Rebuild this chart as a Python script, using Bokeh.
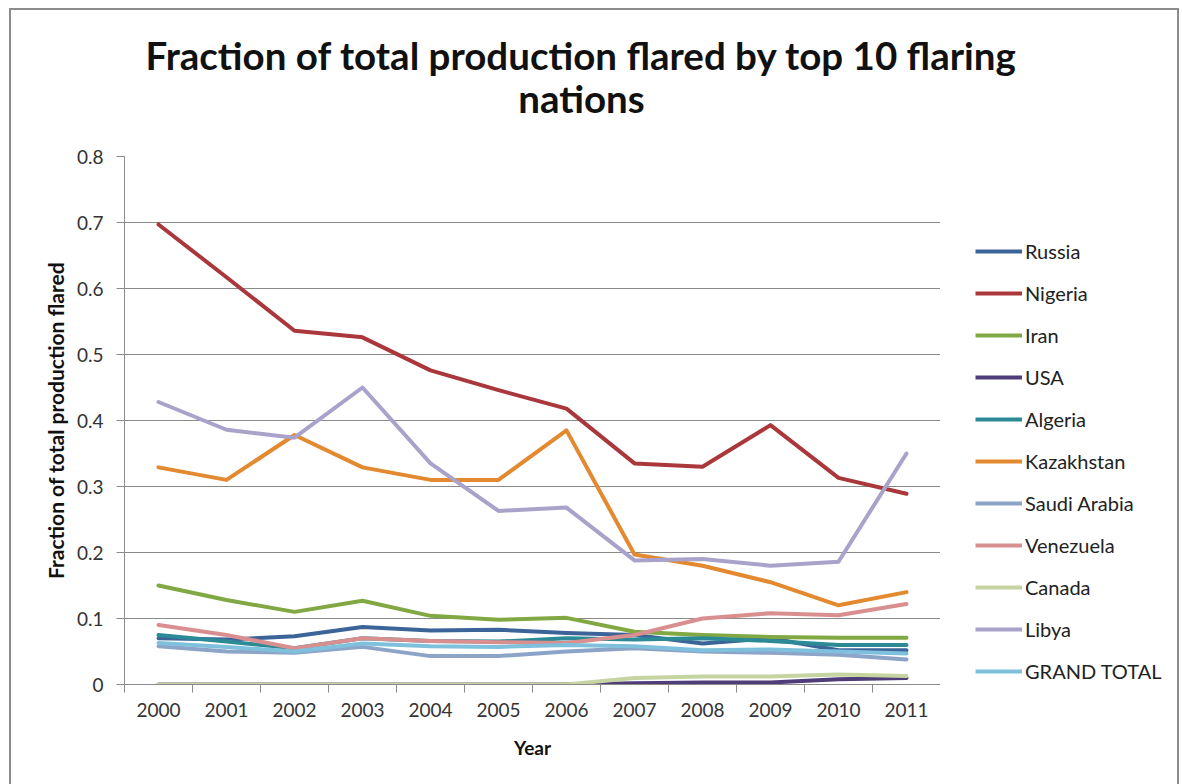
from bokeh.plotting import figure
from bokeh.layouts import column, row
from bokeh.models import (Range1d, FixedTicker, CustomJSTickFormatter, Legend, LegendItem,
                          Label, InlineStyleSheet)
from bokeh.embed import file_html
from bokeh.resources import INLINE

years = [2000, 2001, 2002, 2003, 2004, 2005, 2006, 2007, 2008, 2009, 2010, 2011]

russia = [0.070, 0.068, 0.073, 0.087, 0.082, 0.083, 0.078, 0.075, 0.062, 0.070, 0.052, 0.052]
nigeria = [0.697, 0.617, 0.536, 0.526, 0.476, 0.446, 0.418, 0.335, 0.330, 0.393, 0.313, 0.289]
iran = [0.150, 0.128, 0.110, 0.127, 0.104, 0.098, 0.101, 0.080, 0.075, 0.072, 0.071, 0.071]
usa = [0.0, 0.0, 0.0, 0.0, 0.0, 0.0, 0.0, 0.002, 0.003, 0.003, 0.008, 0.010]
algeria = [0.075, 0.065, 0.055, 0.070, 0.066, 0.065, 0.070, 0.068, 0.070, 0.066, 0.060, 0.060]
kazakhstan = [0.329, 0.310, 0.378, 0.329, 0.310, 0.310, 0.385, 0.197, 0.180, 0.155, 0.120, 0.140]
saudi = [0.058, 0.050, 0.048, 0.057, 0.043, 0.043, 0.050, 0.055, 0.050, 0.048, 0.045, 0.038]
venezuela = [0.090, 0.075, 0.055, 0.070, 0.066, 0.064, 0.063, 0.075, 0.100, 0.108, 0.105, 0.122]
canada = [0.0, 0.0, 0.0, 0.0, 0.0, 0.0, 0.0, 0.010, 0.012, 0.012, 0.015, 0.013]
libya = [0.428, 0.386, 0.374, 0.450, 0.335, 0.263, 0.268, 0.188, 0.190, 0.180, 0.186, 0.350]
grand_total = [0.063, 0.057, 0.050, 0.062, 0.058, 0.057, 0.060, 0.058, 0.052, 0.053, 0.050, 0.047]

series_names = ["Russia", "Nigeria", "Iran", "USA", "Algeria", "Kazakhstan",
                "Saudi Arabia", "Venezuela", "Canada", "Libya", "GRAND TOTAL"]
series_values = [russia, nigeria, iran, usa, algeria, kazakhstan,
                 saudi, venezuela, canada, libya, grand_total]
colors = ["#3C6499", "#A9373B", "#82A844", "#4E3D78", "#2C8A96", "#E3892F",
          "#8CA4C8", "#D98F8F", "#C5D4A0", "#A9A2CA", "#7FC0DC"]
y_ticks = [0, 0.1, 0.2, 0.3, 0.4, 0.5, 0.6, 0.7, 0.8]
grid_ticks = [0.1, 0.2, 0.3, 0.4, 0.5, 0.6, 0.7]
title_lines = ["Fraction of total production flared by top 10 flaring", "nations"]

W, H = 1182, 784
TITLE_H = 136
FL, FR = 124, 940
MAIN_H = H - TITLE_H          # 648
MAIN_TOP, MAIN_BOTTOM = 20, 100

# ---------------- title strip ----------------
pt = figure(width=W, height=TITLE_H, output_backend="svg", toolbar_location=None,
            x_axis_location=None, y_axis_location=None,
            x_range=Range1d(0, 1), y_range=Range1d(0, 1),
            min_border=0)
pt.grid.visible = False
pt.outline_line_color = None
pt.border_fill_color = "white"
pt.background_fill_color = "white"
for txt, baseline_y in [(title_lines[0], 54), (title_lines[1], 97)]:
    pt.add_layout(Label(x=581, y=TITLE_H - baseline_y, x_units="screen", y_units="screen",
                        text=txt, text_align="center", text_baseline="alphabetic",
                        text_font="Lato", text_font_style="bold", text_font_size="38.5px",
                        text_color="#111111"))

# ---------------- main chart ----------------
p = figure(width=FR, height=MAIN_H, output_backend="svg", toolbar_location=None,
           x_range=Range1d(1999.5, 2011.5), y_range=Range1d(0, 0.8),
           min_border_left=FL, min_border_right=0,
           min_border_top=MAIN_TOP, min_border_bottom=MAIN_BOTTOM)
p.outline_line_color = None
p.background_fill_color = "white"
p.border_fill_color = "white"

p.xgrid.grid_line_color = None
p.ygrid.ticker = FixedTicker(ticks=grid_ticks)
p.ygrid.grid_line_color = "#8A8A8A"
p.ygrid.grid_line_width = 1

ya = p.yaxis[0]
ya.ticker = FixedTicker(ticks=y_ticks)
ya.formatter = CustomJSTickFormatter(code="return tick == 0 ? '0' : tick.toFixed(1);")
ya.axis_line_color = "#8A8A8A"
ya.major_tick_line_color = "#8A8A8A"
ya.major_tick_out = 8
ya.major_tick_in = 0
ya.minor_tick_line_color = None
ya.major_label_text_font = "Lato"
ya.major_label_text_font_size = "19px"
ya.major_label_text_color = "#333333"
ya.major_label_standoff = 13
ya.axis_label = "Fraction of total production flared"
ya.axis_label_text_font = "Lato"
ya.axis_label_text_font_style = "bold"
ya.axis_label_text_font_size = "21px"
ya.axis_label_text_color = "#111111"
ya.axis_label_standoff = 6

xa = p.xaxis[0]
xa.ticker = FixedTicker(ticks=years, minor_ticks=[y - 0.5 for y in years] + [2011.5])
xa.axis_line_color = "#8A8A8A"
xa.major_tick_line_color = None
xa.major_tick_out = 8
xa.major_tick_in = 0
xa.minor_tick_line_color = "#8A8A8A"
xa.minor_tick_out = 8
xa.minor_tick_in = 0
xa.major_label_text_font = "Lato"
xa.major_label_text_font_size = "19px"
xa.major_label_text_color = "#333333"
xa.major_label_standoff = 10
xa.axis_label = "Year"
xa.axis_label_text_font = "Lato"
xa.axis_label_text_font_style = "bold"
xa.axis_label_text_font_size = "19px"
xa.axis_label_text_color = "#111111"
xa.axis_label_standoff = 16

for vals, c in zip(series_values, colors):
    p.line(years, vals, line_color=c, line_width=4, line_join="round", line_cap="round")

# ---------------- legend panel ----------------
# the series are drawn again here only to feed the legend; this panel's x range
# (0..1) keeps them out of view, so only the legend shows
pl = figure(width=W - FR, height=MAIN_H, output_backend="svg", toolbar_location=None,
            x_axis_location=None, y_axis_location=None,
            x_range=Range1d(0, 1), y_range=Range1d(0, 1), min_border=0)
pl.grid.visible = False
pl.outline_line_color = None
pl.border_fill_color = "white"
pl.background_fill_color = "white"
items = []
for name, vals, c in zip(series_names, series_values, colors):
    r = pl.line(years, vals, line_color=c, line_width=4)
    items.append(LegendItem(label=name, renderers=[r]))
legend = Legend(items=items, location=(975 - FR, 1),
                orientation="vertical",
                glyph_width=47, glyph_height=20, label_height=20, spacing=18,
                label_standoff=3, padding=0, margin=0,
                border_line_color=None, background_fill_alpha=0,
                label_text_font="Lato", label_text_font_size="20px",
                label_text_color="#222222")
pl.add_layout(legend, "center")

layout = column(pt, row(p, pl, spacing=0), spacing=0,
                stylesheets=[InlineStyleSheet(css="""
:host::after { content: ''; position: absolute; left: 9px; top: 8px; width: 1170px;
  height: 776px; border: 2px solid #8C8C8C; border-bottom: none; box-sizing: border-box;
  pointer-events: none; }
""")])

open("out.html", "w").write(file_html(layout, INLINE))
